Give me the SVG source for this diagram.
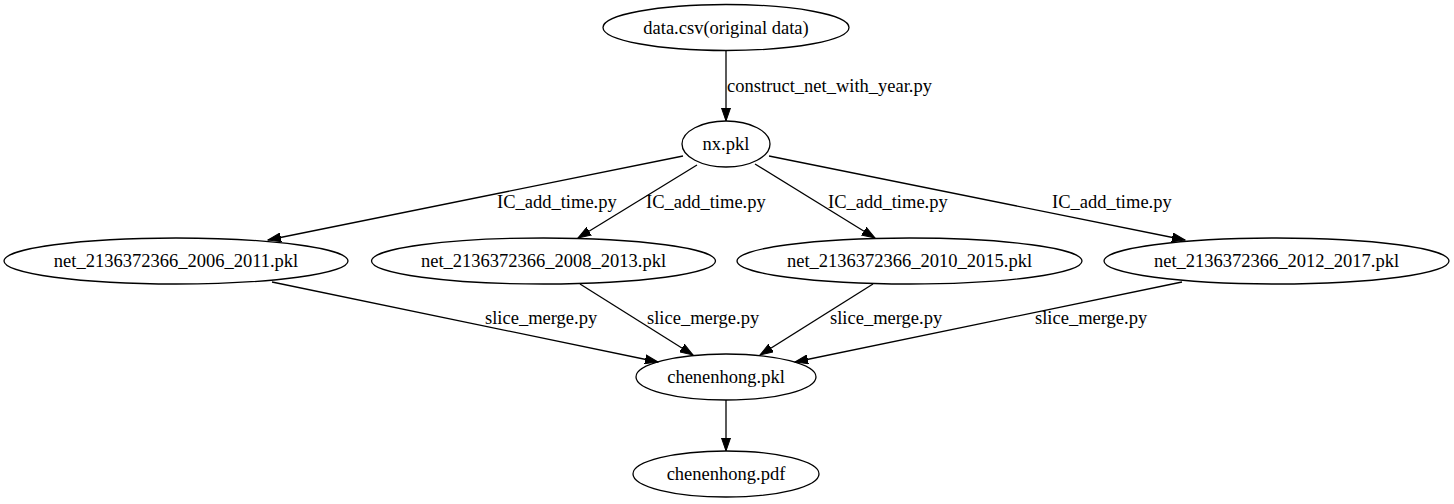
<svg xmlns="http://www.w3.org/2000/svg" width="1454" height="504" viewBox="0 0 1454 504">
<style>
.n ellipse{fill:none;stroke:#000;stroke-width:1.3}
text{font-family:"Liberation Serif","Times New Roman",serif;font-size:18.5px;fill:#000}
.n text{text-anchor:middle}
.e line{stroke:#000;stroke-width:1.3;marker-end:url(#ah)}
</style>
<defs>
<marker id="ah" markerUnits="userSpaceOnUse" markerWidth="14" markerHeight="10" refX="13" refY="5" orient="auto">
<path d="M0,0.5 L13,5 L0,9.5 z" fill="#000" stroke="#000" stroke-width="1"/>
</marker>
</defs>
<rect width="1454" height="504" fill="#fff"/>
<g id="edges" class="e">
<line x1="726" y1="51" x2="726" y2="121"/>
<line x1="683" y1="156" x2="268" y2="240"/>
<line x1="697" y1="165" x2="578" y2="238"/>
<line x1="755" y1="164" x2="875" y2="238"/>
<line x1="769" y1="156" x2="1185" y2="240"/>
<line x1="272" y1="282" x2="658" y2="362"/>
<line x1="580" y1="284" x2="693" y2="355"/>
<line x1="873" y1="284" x2="760" y2="355"/>
<line x1="1182" y1="282" x2="795" y2="362"/>
<line x1="726" y1="400" x2="726" y2="451"/>
<text x="727" y="92">construct_net_with_year.py</text>
<text x="497" y="208">IC_add_time.py</text>
<text x="646" y="208">IC_add_time.py</text>
<text x="828" y="208">IC_add_time.py</text>
<text x="1052" y="208">IC_add_time.py</text>
<text x="485" y="324">slice_merge.py</text>
<text x="647" y="324">slice_merge.py</text>
<text x="830" y="324">slice_merge.py</text>
<text x="1035" y="324">slice_merge.py</text>
</g>
<g id="data_csv" class="n"><ellipse cx="726" cy="27.5" rx="123" ry="23"/><text x="726" y="34">data.csv(original data)</text></g>
<g id="nx_pkl" class="n"><ellipse cx="726" cy="144" rx="44" ry="23"/><text x="726" y="150">nx.pkl</text></g>
<g id="net_2006_2011" class="n"><ellipse cx="176" cy="261" rx="172" ry="23"/><text x="176" y="267">net_2136372366_2006_2011.pkl</text></g>
<g id="net_2008_2013" class="n"><ellipse cx="543.5" cy="261" rx="172" ry="23"/><text x="543.5" y="267">net_2136372366_2008_2013.pkl</text></g>
<g id="net_2010_2015" class="n"><ellipse cx="909.5" cy="261" rx="172.5" ry="23"/><text x="909.5" y="267">net_2136372366_2010_2015.pkl</text></g>
<g id="net_2012_2017" class="n"><ellipse cx="1276.5" cy="261" rx="172.5" ry="23"/><text x="1276.5" y="267">net_2136372366_2012_2017.pkl</text></g>
<g id="chenenhong_pkl" class="n"><ellipse cx="726" cy="377" rx="90" ry="23"/><text x="726" y="383">chenenhong.pkl</text></g>
<g id="chenenhong_pdf" class="n"><ellipse cx="726" cy="474" rx="93" ry="23"/><text x="726" y="480">chenenhong.pdf</text></g>
</svg>
